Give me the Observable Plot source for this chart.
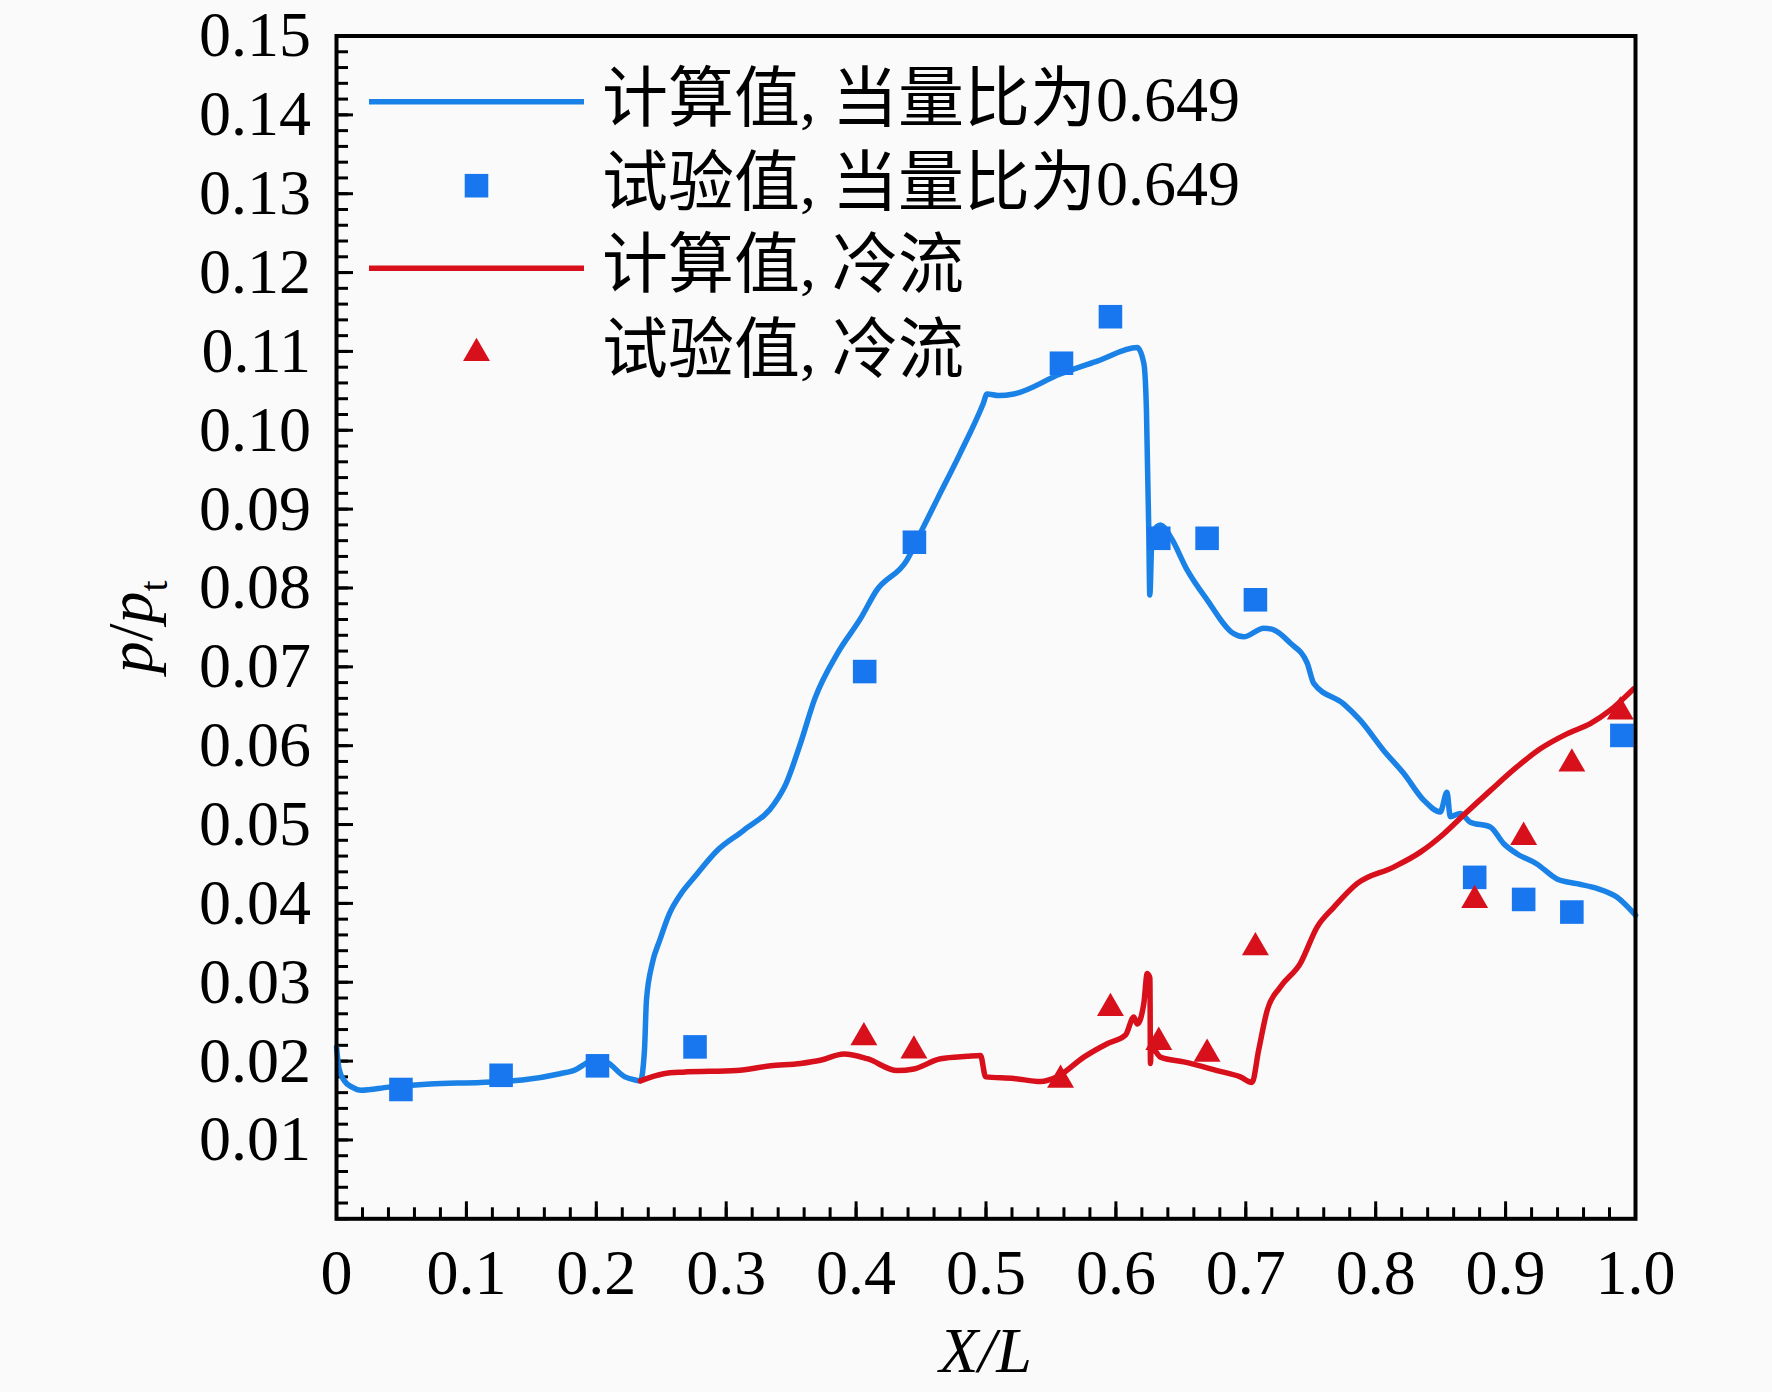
<!DOCTYPE html>
<html>
<head>
<meta charset="utf-8">
<script src="https://cdn.jsdelivr.net/npm/d3@7"></script>
<script src="https://cdn.jsdelivr.net/npm/@observablehq/plot@0.6"></script>
<style>
  html, body { margin: 0; padding: 0; background: #fafafa; }
  #chart svg { display: block; }
</style>
</head>
<body>
<div id="chart"></div>
<script>
// ---- data ----
// computed, equivalence ratio 0.649 (blue line)
const blueX = [0, 0.002, 0.006, 0.012, 0.019, 0.040, 0.072, 0.111, 0.143, 0.172, 0.184, 0.192, 0.199, 0.208, 0.222, 0.230, 0.234,
  0.2371, 0.2386, 0.2431, 0.2488, 0.2563, 0.2651, 0.2754, 0.2931, 0.3137, 0.3373, 0.3461, 0.3566, 0.3683, 0.386, 0.4037, 0.4154,
  0.439, 0.4508, 0.4626, 0.4802, 0.4979, 0.5008, 0.5097, 0.5214, 0.5567, 0.5862, 0.6164, 0.6215, 0.6235, 0.6253, 0.6261, 0.6279,
  0.6343, 0.642, 0.6548, 0.6702, 0.6907, 0.6984, 0.7138, 0.7215, 0.7343, 0.7472, 0.7523, 0.7753, 0.7882, 0.8061, 0.8215, 0.8369,
  0.8497, 0.8549, 0.8574, 0.8651, 0.8728, 0.8882, 0.8984, 0.9087, 0.9241, 0.9395, 0.9549, 0.9703, 0.9856, 1.0];
const blueP = [0.0218, 0.0190, 0.0175, 0.0167, 0.0163, 0.0167, 0.0171, 0.0173, 0.0176, 0.0184, 0.0189, 0.0197, 0.0203, 0.0199, 0.0180, 0.0176, 0.0175,
  0.0214, 0.0277, 0.0324, 0.0353, 0.0387, 0.0412, 0.0433, 0.0467, 0.0493, 0.0527, 0.0552, 0.0600, 0.0660, 0.0718, 0.0762, 0.0796,
  0.0835, 0.0874, 0.0913, 0.0971, 0.1034, 0.1046, 0.1044, 0.1046, 0.1071, 0.1088, 0.1105, 0.1085, 0.1026, 0.0873, 0.0791, 0.0869,
  0.0880, 0.0865, 0.0823, 0.0785, 0.0742, 0.0738, 0.0749, 0.0747, 0.0730, 0.0705, 0.0679, 0.0653, 0.0632, 0.0594, 0.0565, 0.0531,
  0.0516, 0.0541, 0.0510, 0.0514, 0.0503, 0.0497, 0.0476, 0.0463, 0.0450, 0.0431, 0.0425, 0.0419, 0.0408, 0.0385];

// computed, cold flow (red line)
const redX = [0.234, 0.2519, 0.2665, 0.3078, 0.3342, 0.3573, 0.3726, 0.3906, 0.4086, 0.4317, 0.4445, 0.465, 0.4856, 0.4958, 0.4997,
  0.5214, 0.542, 0.5548, 0.5753, 0.5933, 0.6074, 0.6138, 0.6164, 0.6215, 0.6241, 0.6262, 0.6266, 0.6271, 0.6343, 0.6522, 0.6779,
  0.6958, 0.7048, 0.7099, 0.7164, 0.7266, 0.742, 0.7549, 0.7677, 0.7856, 0.8138, 0.8344, 0.8523, 0.8677, 0.8882, 0.9087, 0.9267,
  0.9472, 0.9652, 0.9806, 0.9985];
const redP = [0.0175, 0.0184, 0.0186, 0.0188, 0.0194, 0.0197, 0.0201, 0.0209, 0.0203, 0.0188, 0.0190, 0.0203, 0.0206, 0.0207, 0.0180,
  0.0178, 0.0174, 0.0180, 0.0205, 0.0222, 0.0233, 0.0256, 0.0247, 0.0273, 0.0311, 0.0305, 0.0197, 0.0218, 0.0205, 0.0199, 0.0188,
  0.0180, 0.0173, 0.0214, 0.0264, 0.0294, 0.0324, 0.0370, 0.0395, 0.0425, 0.0446, 0.0465, 0.0488, 0.0512, 0.0543, 0.0573, 0.0596,
  0.0615, 0.0628, 0.0645, 0.0672];

// test, equivalence ratio 0.649 (blue squares)
const sqX = [0.0496, 0.1267, 0.2009, 0.2760, 0.4066, 0.4449, 0.5581, 0.5958, 0.6330, 0.6702, 0.7074, 0.8762, 0.9139, 0.9510, 0.9895];
const sqP = [0.0164, 0.0182, 0.0194, 0.0218, 0.0694, 0.0858, 0.1085, 0.1144, 0.0863, 0.0863, 0.0785, 0.0433, 0.0405, 0.0389, 0.0613];

// test, cold flow (red triangles)
const triX = [0.4060, 0.4445, 0.5574, 0.5958, 0.6330, 0.6702, 0.7074, 0.8762, 0.9139, 0.9510, 0.9883];
const triP = [0.0230, 0.0213, 0.0176, 0.0267, 0.0224, 0.0209, 0.0344, 0.0404, 0.0484, 0.0577, 0.0643];

// ticks
const xMajor = [0, 0.1, 0.2, 0.3, 0.4, 0.5, 0.6, 0.7, 0.8, 0.9, 1.0];
const xTickLabels = ["0", "0.1", "0.2", "0.3", "0.4", "0.5", "0.6", "0.7", "0.8", "0.9", "1.0"];
const xMinor = d3.range(0, 51).map(i => i / 50);
const yMajor = [0.01, 0.02, 0.03, 0.04, 0.05, 0.06, 0.07, 0.08, 0.09, 0.10, 0.11, 0.12, 0.13, 0.14, 0.15];
const yTickLabels = ["0.01", "0.02", "0.03", "0.04", "0.05", "0.06", "0.07", "0.08", "0.09", "0.10", "0.11", "0.12", "0.13", "0.14", "0.15"];
const yMinor = d3.range(0, 76).map(i => i / 500);

const legendLabels = ["计算值, 当量比为0.649", "试验值, 当量比为0.649", "计算值, 冷流", "试验值, 冷流"];

// ---- tables ----
const blue = blueX.map((x, i) => ({x, p: blueP[i]}));
const red = redX.map((x, i) => ({x, p: redP[i]}));
const squares = sqX.map((x, i) => ({x, p: sqP[i]}));
const triangles = triX.map((x, i) => ({x, p: triP[i]}));

const BLUE_LINE = "#1a82e6";
const BLUE_PT = "#1877ee";
const RED = "#d8101c";
const SERIF = "'Liberation Serif', 'Times New Roman', serif";
const CJK = "'Noto Sans CJK SC', sans-serif";

const W = 1772, H = 1392;
const mL = 336, mR = 137, mT = 35.5, mB = 173.7;
const LW = 5.5;

const chart = Plot.plot({
  width: W, height: H,
  marginLeft: mL, marginRight: mR, marginTop: mT, marginBottom: mB,
  x: {domain: [0, 1]},
  y: {domain: [0, 0.15]},
  style: {background: "#fafafa", fontFamily: SERIF, fontSize: "64px", color: "black"},
  marks: [
    Plot.axisX(xMinor, {anchor: "bottom", tickSize: -11, strokeWidth: 3, stroke: "black", fill: "none", label: null}),
    Plot.axisX(xMajor, {anchor: "bottom", tickSize: -17, tickPadding: 47, strokeWidth: 3, fontSize: 64,
      tickFormat: d => xTickLabels[xMajor.indexOf(d)], label: null}),
    Plot.axisY(yMinor, {anchor: "left", tickSize: -12, strokeWidth: 3, stroke: "black", fill: "none", label: null}),
    Plot.axisY(yMajor, {anchor: "left", tickSize: -17, tickPadding: 42.5, strokeWidth: 3, fontSize: 64,
      tickFormat: d => yTickLabels[yMajor.indexOf(d)], label: null}),
    Plot.line(blue, {x: "x", y: "p", stroke: BLUE_LINE, strokeWidth: LW, curve: "monotone-x", strokeLinejoin: "round"}),
    Plot.line(red, {x: "x", y: "p", stroke: RED, strokeWidth: LW, curve: "monotone-x", strokeLinejoin: "round"}),
    Plot.dot(squares, {x: "x", y: "p", symbol: "square", r: 13.3, fill: BLUE_PT, stroke: "none"}),
    Plot.dot(triangles, {x: "x", y: "p", symbol: "triangle", r: 10, fill: RED, stroke: "none"}),
    Plot.frame({stroke: "black", strokeWidth: 4})
  ]
});

document.getElementById("chart").appendChild(chart);

// ---- axis titles and legend (text added to the Plot SVG) ----
const svg = d3.select(chart);

// x title
svg.append("text")
  .attr("x", (mL + (W - mR)) / 2).attr("y", 1372)
  .attr("text-anchor", "middle")
  .style("font-family", SERIF).style("font-size", "64px").style("font-style", "italic")
  .attr("fill", "black")
  .text("X/L");

// y title with subscript
const yt = svg.append("text")
  .attr("transform", `translate(152, ${(mT + (H - mB)) / 2}) rotate(-90)`)
  .attr("text-anchor", "middle")
  .style("font-family", SERIF).style("font-size", "64px")
  .attr("fill", "black");
yt.append("tspan").style("font-style", "italic").text("p");
yt.append("tspan").text("/");
yt.append("tspan").style("font-style", "italic").text("p");
yt.append("tspan").attr("dy", 15).style("font-size", "40px").text("t");

// legend
const lg = svg.append("g");
const rows = [101.7, 185.7, 268.3, 353.3];
lg.append("line").attr("x1", 369).attr("x2", 584).attr("y1", rows[0]).attr("y2", rows[0])
  .attr("stroke", BLUE_LINE).attr("stroke-width", LW);
lg.append("path").attr("transform", `translate(476.5, ${rows[1]})`)
  .attr("d", d3.symbol(d3.symbolSquare, Math.PI * 13.3 * 13.3)()).attr("fill", BLUE_PT);
lg.append("line").attr("x1", 369).attr("x2", 584).attr("y1", rows[2]).attr("y2", rows[2])
  .attr("stroke", RED).attr("stroke-width", LW);
lg.append("path").attr("transform", `translate(476.5, ${rows[3]})`)
  .attr("d", d3.symbol(d3.symbolTriangle, Math.PI * 10 * 10)()).attr("fill", RED);
legendLabels.forEach((t, i) => {
  const tx = lg.append("text").attr("x", 602).attr("y", rows[i] + 19)
    .attr("text-anchor", "start").attr("fill", "black");
  // split into CJK and Latin runs so digits/commas use the serif face
  const runs = t.match(/[\u3400-\u9fff]+|[^\u3400-\u9fff]+/g);
  runs.forEach(r => {
    const isCJK = /[\u3400-\u9fff]/.test(r);
    tx.append("tspan")
      .style("font-family", isCJK ? CJK : SERIF)
      .style("font-size", isCJK ? "66px" : "64px")
      .text(r);
  });
});
</script>
</body>
</html>
